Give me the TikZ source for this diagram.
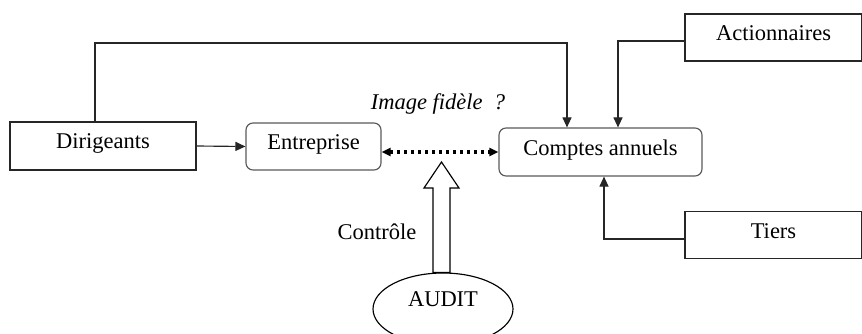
\documentclass[tikz,border=0pt]{standalone}
\usepackage{fontspec}
\setmainfont{Liberation Serif}
\usetikzlibrary{shapes.geometric,arrows.meta}
\begin{document}
\begin{tikzpicture}[x=1pt,y=-1pt,
  every node/.style={font=\fontsize{22.5}{25}\selectfont},
  sqbox/.style={draw=black!85, line width=1.15pt, inner sep=0pt, text height=16pt, text depth=10pt},
  rbox/.style={draw=black!65, line width=1.15pt, rounded corners=7pt, inner sep=0pt, text height=16pt, text depth=10pt},
  link/.style={draw=black!85, line width=1.15pt},
  tip/.style={-{Triangle[length=10pt,width=9pt]}}
]
\useasboundingbox (0,0) rectangle (862,334);
% boxes
\node[sqbox, minimum width=186pt, minimum height=48pt] (dir) at (103,146) {Dirigeants};
\node[rbox, minimum width=135pt, minimum height=47pt] (ent) at (313.5,146.5) {Entreprise};
\node[rbox, minimum width=203pt, minimum height=48pt] (cpt) at (600.5,152) {Comptes annuels};
\node[sqbox, minimum width=177pt, minimum height=47pt] (act) at (773.5,37.5) {Actionnaires};
\node[sqbox, minimum width=177pt, minimum height=47pt] (tie) at (773.5,235) {Tiers};
\node[draw=black, line width=1.15pt, ellipse, minimum width=140pt, minimum height=72pt, inner sep=0pt, text height=16pt, text depth=22pt] (aud) at (443,309) {AUDIT};
% labels
\node (img) at (438,104) {\itshape Image fidèle \ ?};
\node (ctl) at (377,232) {Contrôle};
% connectors
\draw[link, tip] (dir.east) -- (ent.west);
\draw[link, tip] ([xshift=-8pt]dir.north) |- (567,43) -- (cpt.north -| 567,0);
\draw[link, tip] (act.west |- 0,41) -| (cpt.north -| 618,0);
\draw[link, tip] (tie.west |- 0,239) -| (cpt.south -| 604,0);
\draw[line width=3.2pt, dash pattern=on 3.2pt off 3.8pt, {Triangle[length=9pt,width=8pt]}-{Triangle[length=9pt,width=8pt]}]
  (ent.east |- cpt.west) -- (cpt.west);
% hollow arrow from the audit towards the link
\coordinate (up) at (441.5,162);
\draw[line width=1.15pt, fill=white]
  (433,0 |- aud.north) -- (433,188) -- (424,188) -- (up) -- (459,188) -- (450,188) -- (450,0 |- aud.north) -- cycle;
\end{tikzpicture}
\end{document}
